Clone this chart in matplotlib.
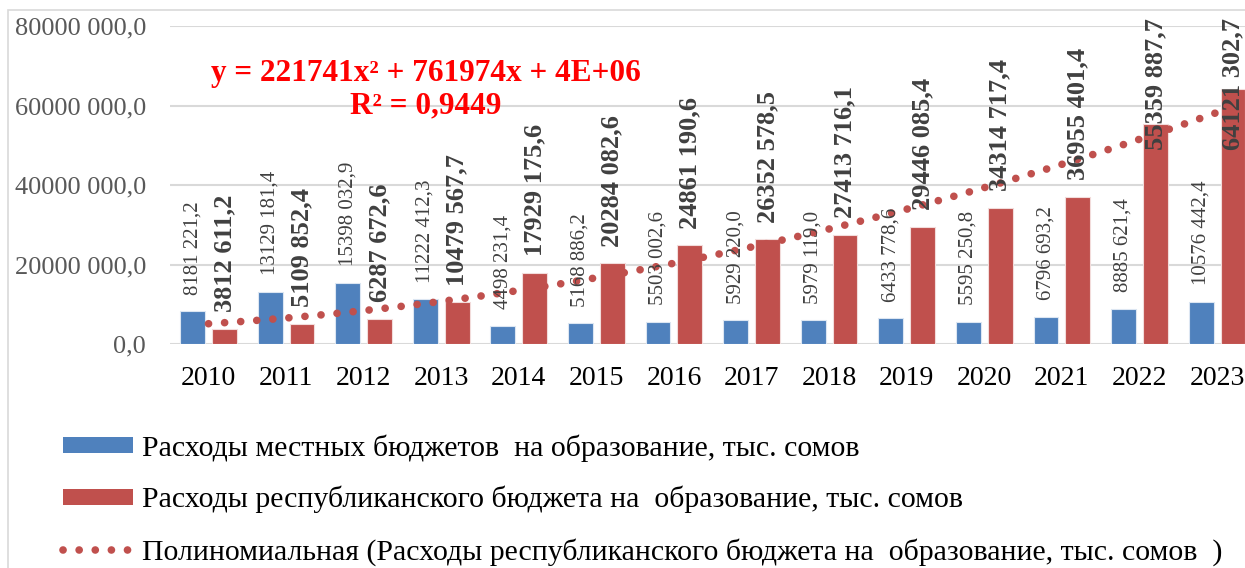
import numpy as np
import matplotlib
matplotlib.use('Agg')
import matplotlib.pyplot as plt
from matplotlib.patches import Patch, Rectangle
from matplotlib.lines import Line2D
from matplotlib.ticker import FuncFormatter

plt.rcParams['font.family'] = ['Liberation Serif', 'DejaVu Serif']

# данные
years = ['2010', '2011', '2012', '2013', '2014', '2015', '2016',
         '2017', '2018', '2019', '2020', '2021', '2022', '2023']
local_budget = [8181221.2, 13129181.4, 15398032.9, 11222412.3, 4498231.4, 5168886.2, 5503002.6,
                5929220.0, 5979119.0, 6433778.6, 5595250.8, 6796693.2, 8885621.4, 10576442.4]
rep_budget = [3812611.2, 5109852.4, 6287672.6, 10479567.7, 17929175.6, 20284082.6, 24861190.6,
              26352578.5, 27413716.1, 29446085.4, 34314717.4, 36955401.4, 55359887.7, 64121302.7]

label_local = 'Расходы местных бюджетов  на образование, тыс. сомов'
label_rep = 'Расходы республиканского бюджета на  образование, тыс. сомов'
label_trend = 'Полиномиальная (Расходы республиканского бюджета на  образование, тыс. сомов  )'
eq_text = 'y = 221741x² + 761974x + 4E+06'
r2_text = 'R² = 0,9449'

BLUE = '#4f81bd'
RED = '#c0504d'
DOTS = (0, (0.01, 2.1))


def fmt(v):
    # формат как в Excel: "80000 000,0"
    if v < 1000:
        return f'{v:.1f}'.replace('.', ',')
    th = int(v) // 1000
    rest = v - th * 1000
    return f'{th} {rest:05.1f}'.replace('.', ',')


fig = plt.figure(figsize=(12.45, 5.68), dpi=100)
ax = fig.add_axes([169.7 / 1245, 1 - 344 / 568, (1255.8 - 169.7) / 1245, 318 / 568])

# рамка области диаграммы
fig.patches.append(Rectangle((8 / 1245, -0.1), 1.2, 1 - 10 / 568 + 0.1, transform=fig.transFigure,
                             fill=False, edgecolor='#d9d9d9', linewidth=1.2, zorder=0))

x = np.arange(1, len(years) + 1)
w = 0.32
off = 0.205
ax.bar(x - off, local_budget, w, color=BLUE, edgecolor='#dce6f2', linewidth=0.8, zorder=2)
ax.bar(x + off, rep_budget, w, color=RED, edgecolor='#f2dcdb', linewidth=0.8, zorder=2)

# полиномиальный тренд 2-й степени
coef = np.polyfit(x, rep_budget, 2)
xs = np.linspace(1, len(years), 300)
ax.plot(xs, np.polyval(coef, xs), color=RED, linewidth=5.5, linestyle=DOTS,
        dash_capstyle='round', zorder=3)

# подписи данных
for xi, v in zip(x, local_budget):
    ax.annotate(fmt(v), (xi - off, v), xytext=(0, 12), textcoords='offset points',
                rotation=90, ha='center', va='bottom', fontsize=15, color='#404040', zorder=4)
cap = 44.5e6  # подписи, не помещающиеся сверху
for xi, v in zip(x, rep_budget):
    ax.annotate(fmt(v), (xi + off, min(v, cap)), xytext=(0, 12), textcoords='offset points',
                rotation=90, ha='center', va='bottom', fontsize=19, fontweight='bold',
                color='#404040', zorder=4)

ax.text(0.236, 0.852, eq_text, transform=ax.transAxes, ha='center', va='center',
        fontsize=22.5, fontweight='bold', color='#ff0000', zorder=5)
ax.text(0.236, 0.748, r2_text, transform=ax.transAxes, ha='center', va='center',
        fontsize=22.5, fontweight='bold', color='#ff0000', zorder=5)

ax.set_xlim(0.5, len(years) + 0.5)
ax.set_ylim(0, 80e6)
ax.set_yticks(np.arange(0, 80e6 + 1, 20e6))
ax.yaxis.set_major_formatter(FuncFormatter(lambda v, p: fmt(v)))
ax.set_xticks(x)
ax.set_xticklabels(years)
ax.tick_params(axis='y', length=0, pad=17, labelsize=19, labelcolor='#595959')
ax.tick_params(axis='x', length=0, pad=16, labelsize=20, labelcolor='black')
ax.grid(axis='y', color='#d9d9d9', linewidth=1.5, zorder=0)
ax.set_axisbelow(True)
for s in ax.spines.values():
    s.set_visible(False)

handles = [Patch(facecolor=BLUE, edgecolor='none'),
           Patch(facecolor=RED, edgecolor='none'),
           Line2D([], [], color=RED, linewidth=5.5, linestyle=DOTS, dash_capstyle='round')]
fig.legend(handles, [label_local, label_rep, label_trend], loc='upper left',
           bbox_to_anchor=(63 / 1245, 1 - 434 / 568), frameon=False, fontsize=21.5,
           handlelength=2.35, handleheight=0.45, handletextpad=0.3, labelspacing=0.82,
           borderpad=0, borderaxespad=0)

fig.savefig('out.png', dpi=100)
